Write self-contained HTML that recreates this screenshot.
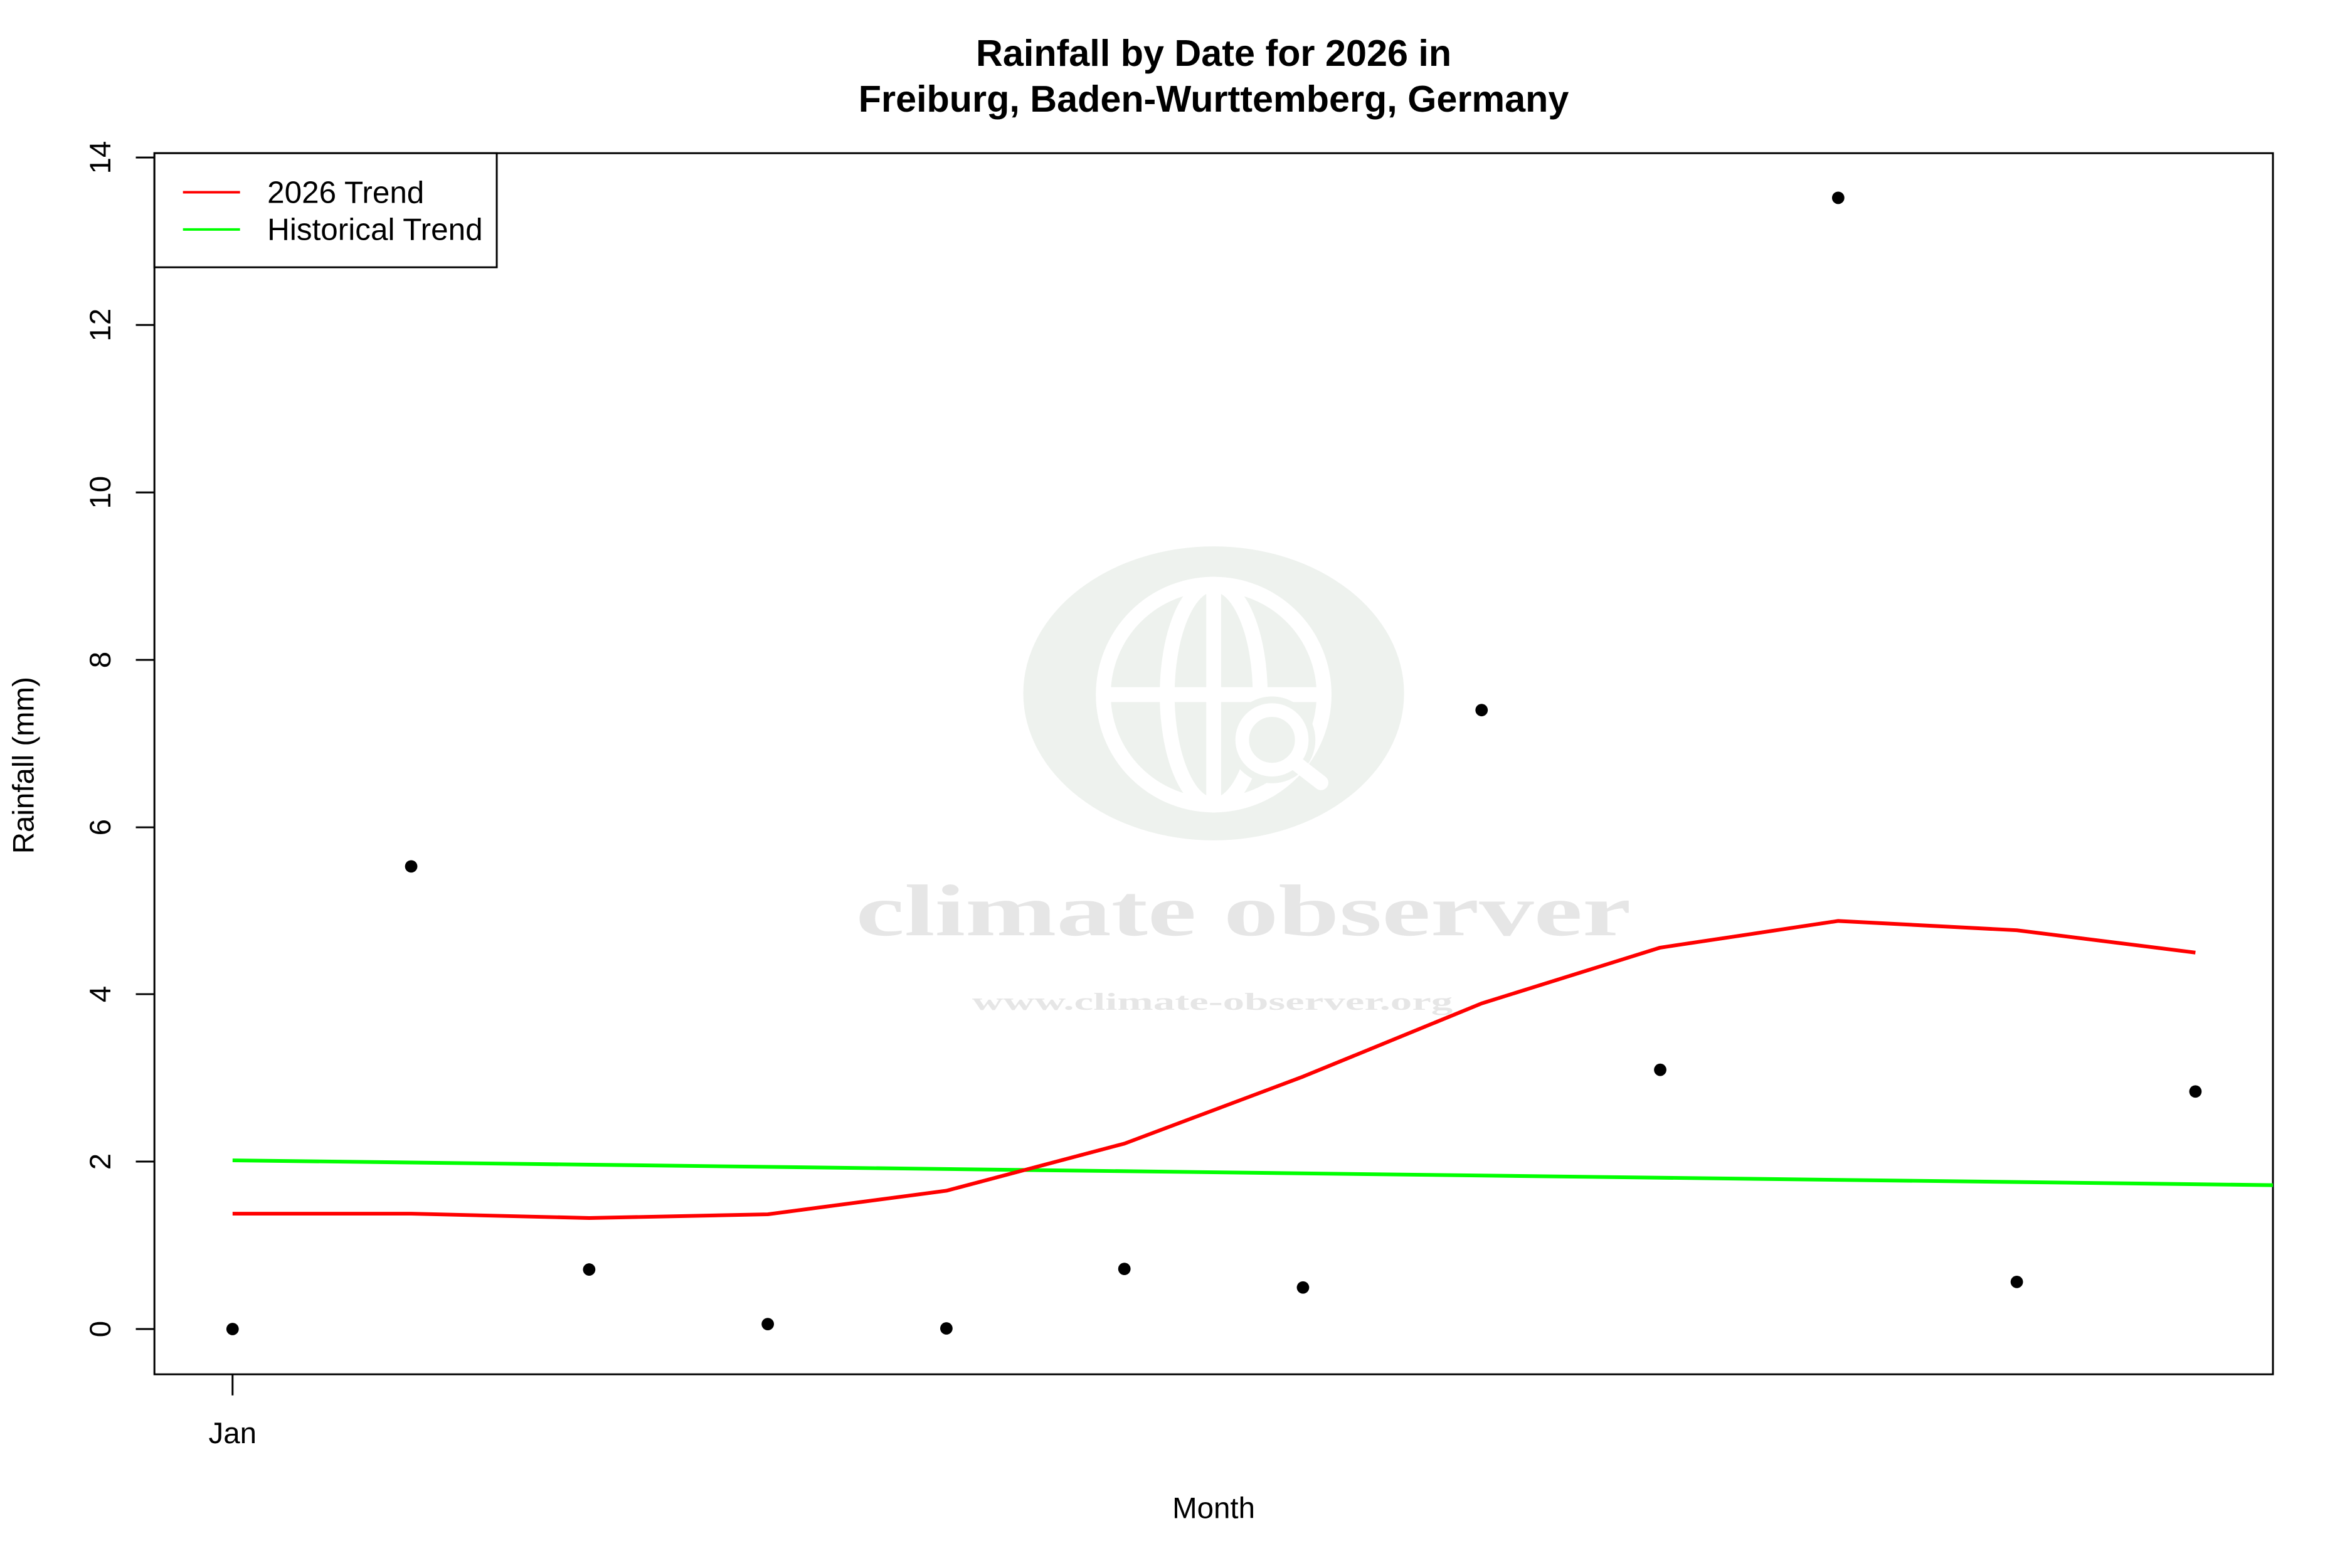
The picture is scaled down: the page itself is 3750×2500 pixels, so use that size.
<!DOCTYPE html>
<html><head><meta charset="utf-8"><style>
html,body{margin:0;padding:0;background:#fff}
svg{display:block}
text{font-family:"Liberation Sans",Arial,sans-serif}
</style></head><body>
<svg width="3750" height="2500" viewBox="0 0 3750 2500" xmlns="http://www.w3.org/2000/svg">
<rect width="3750" height="2500" fill="#fff"/>
<g transform="scale(0.9888)">
<!-- watermark -->
<ellipse cx="1957" cy="1118" rx="307" ry="237" fill="#eef2ee"/>
<g fill="none" stroke="#fff" stroke-width="24">
<circle cx="1957" cy="1120" r="178"/>
<ellipse cx="1957" cy="1120" rx="75" ry="178"/>
<line x1="1779" y1="1120" x2="2135" y2="1120"/>
<line x1="1957" y1="942" x2="1957" y2="1298"/>
</g>
<circle cx="2051" cy="1193" r="70" fill="#eef2ee"/>
<circle cx="2051" cy="1193" r="48" fill="none" stroke="#fff" stroke-width="22"/>
<line x1="2086" y1="1228" x2="2130" y2="1262" stroke="#fff" stroke-width="24" stroke-linecap="round"/>
<text x="2005" y="1508" text-anchor="middle" font-weight="bold" font-size="118" fill="#e6e6e6" style="font-family:'Liberation Serif',serif" textLength="1250" lengthAdjust="spacingAndGlyphs">climate observer</text>
<text x="1955" y="1628" text-anchor="middle" font-weight="bold" font-size="40" fill="#e6e6e6" style="font-family:'Liberation Serif',serif" textLength="775" lengthAdjust="spacingAndGlyphs">www.climate-observer.org</text>
<!-- title -->
<text x="1957" y="106" text-anchor="middle" font-weight="bold" font-size="60">Rainfall by Date for 2026 in</text>
<text x="1957" y="180" text-anchor="middle" font-weight="bold" font-size="60">Freiburg, Baden-Wurttemberg, Germany</text>
<!-- plot box -->
<rect x="249" y="247" width="3416" height="1969" fill="none" stroke="#000" stroke-width="3"/>
<g stroke="#000" stroke-width="3">
<line x1="219" y1="2143" x2="249" y2="2143"/><line x1="219" y1="1873" x2="249" y2="1873"/>
<line x1="219" y1="1603" x2="249" y2="1603"/><line x1="219" y1="1334" x2="249" y2="1334"/>
<line x1="219" y1="1064" x2="249" y2="1064"/><line x1="219" y1="794" x2="249" y2="794"/>
<line x1="219" y1="524" x2="249" y2="524"/><line x1="219" y1="254" x2="249" y2="254"/>
<line x1="375" y1="2216" x2="375" y2="2250"/>
</g>
<g font-size="48" text-anchor="middle">
<text transform="translate(178,2143) rotate(-90)">0</text>
<text transform="translate(178,1873) rotate(-90)">2</text>
<text transform="translate(178,1603) rotate(-90)">4</text>
<text transform="translate(178,1334) rotate(-90)">6</text>
<text transform="translate(178,1064) rotate(-90)">8</text>
<text transform="translate(178,794) rotate(-90)">10</text>
<text transform="translate(178,524) rotate(-90)">12</text>
<text transform="translate(178,254) rotate(-90)">14</text>
<text transform="translate(54,1234) rotate(-90)">Rainfall (mm)</text>
<text x="375" y="2327">Jan</text>
<text x="1957" y="2448">Month</text>
</g>
<!-- series -->
<polyline fill="none" stroke="#00ff00" stroke-width="6" points="375,1871 3665,1911"/>
<polyline fill="none" stroke="#ff0000" stroke-width="6" stroke-linejoin="round" points="375,1957 663,1957 950,1964 1238,1958 1526,1920 1813,1844 2101,1736 2389,1618 2677,1528 2964,1485 3252,1500 3540,1536"/>
<g fill="#000">
<circle cx="375" cy="2143" r="10"/><circle cx="663" cy="1397" r="10"/>
<circle cx="950" cy="2047" r="10"/><circle cx="1238" cy="2135" r="10"/>
<circle cx="1526" cy="2142" r="10"/><circle cx="1813" cy="2046" r="10"/>
<circle cx="2101" cy="2076" r="10"/><circle cx="2389" cy="1145" r="10"/>
<circle cx="2677" cy="1725" r="10"/><circle cx="2964" cy="319" r="10"/>
<circle cx="3252" cy="2067" r="10"/><circle cx="3540" cy="1760" r="10"/>
</g>
<!-- legend -->
<rect x="249" y="247" width="552" height="184" fill="#fff" stroke="#000" stroke-width="3"/>
<line x1="295" y1="310" x2="387" y2="310" stroke="#ff0000" stroke-width="4"/>
<line x1="295" y1="370" x2="387" y2="370" stroke="#00ff00" stroke-width="4"/>
<text x="431" y="327" font-size="50">2026 Trend</text>
<text x="431" y="387" font-size="50">Historical Trend</text>
</g>
</svg>
</body></html>
